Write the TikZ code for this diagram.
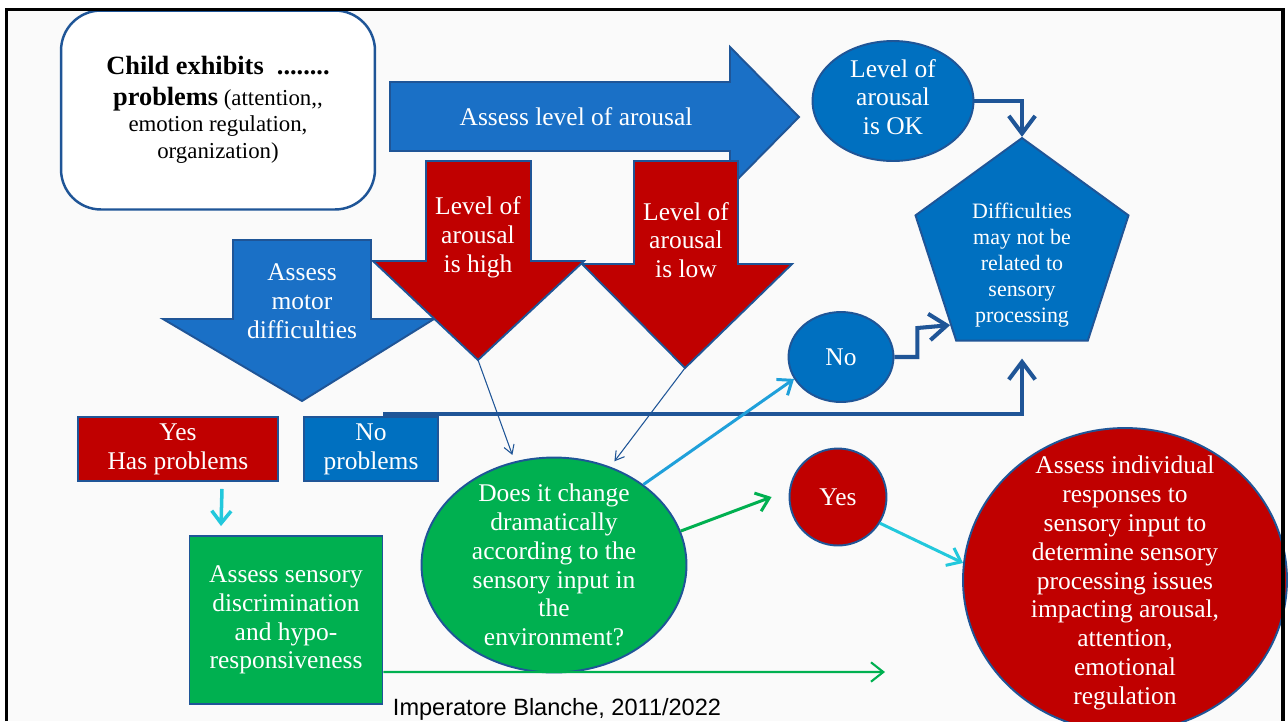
\documentclass[tikz,border=0pt]{standalone}
\usepackage{fontspec}
\setmainfont{Liberation Serif}
\setsansfont{Liberation Sans}
\usetikzlibrary{arrows.meta,shapes.geometric,calc}

\definecolor{fillblue}{HTML}{0070C0}
\definecolor{arrowblue}{HTML}{1A70C6}
\definecolor{edgeblue}{HTML}{1F5597}
\definecolor{darkred}{HTML}{C00000}
\definecolor{fillgreen}{HTML}{00B050}
\definecolor{skyblue}{HTML}{1FA0DA}
\definecolor{aqua}{HTML}{22C8DC}
\definecolor{slidebg}{HTML}{FAFAFA}

\newcommand{\boxfont}{\fontsize{14.5}{16.4}\selectfont}
\newcommand{\childfont}{\fontsize{13}{15.3}\selectfont}
\newcommand{\childbold}[1]{{\fontsize{15}{15.3}\selectfont\bfseries #1}}
\newcommand{\pentfont}{\fontsize{12.5}{14.8}\selectfont}
\newcommand{\creditfont}{\sffamily\fontsize{13.4}{15}\selectfont}

\tikzset{
  shape edge/.style={draw=edgeblue,line width=1.1pt},
  white text/.style={text=white,align=center,font=\boxfont},
  blue shape/.style={shape edge,fill=fillblue,white text},
  red shape/.style={shape edge,fill=darkred,white text},
  green shape/.style={shape edge,fill=fillgreen,white text},
  block blue/.style={shape edge,fill=arrowblue,line join=miter},
  block red/.style={shape edge,fill=darkred,line join=miter},
  elbow link/.style={draw=edgeblue,line width=2.3pt,-{Straight Barb[length=10pt,width=15pt]}},
  thin link/.style={draw=edgeblue,line width=0.6pt,-{Straight Barb[length=5pt,width=6pt]}},
  colour link/.style={line width=1.7pt,-{Straight Barb[length=7pt,width=11pt]}},
}

\begin{document}
\begin{tikzpicture}[x=0.02cm,y=-0.02cm]
\useasboundingbox (0,0) rectangle (1288,721);
\clip (0,0) rectangle (1288,721);
\fill[white] (0,0) rectangle (1288,721);
\fill[slidebg] (6,9) rectangle (1283,721);

% start box
\node[draw=edgeblue,line width=1.4pt,fill=white,rounded corners=0.8cm,
  minimum width=6.28cm,minimum height=3.98cm,align=center,font=\childfont] (child) at (218,110)
  {\childbold{Child exhibits\ \ ........}\\[2pt] \childbold{problems} (attention,{},\\ emotion regulation,\\ organization)};

% block arrows
\draw[block blue] (390,82) -- (730,82) -- (730,47) -- (799,117) -- (730,187) -- (730,151) -- (390,151) -- cycle;
\node[white text] (arousal) at (576,117) {Assess level of arousal};

\draw[block blue] (233,240) -- (371,240) -- (371,319) -- (434,319) -- (302,401) -- (163,319) -- (233,319) -- cycle;
\node[white text] (motor) at (302,301) {Assess\\motor\\difficulties};

\draw[block red] (426,161) -- (531,161) -- (531,261) -- (584,261) -- (478,360) -- (373,261) -- (426,261) -- cycle;
\node[white text] (high) at (478,237) {Level of\\arousal\\is high};
\coordinate (hightip) at (478,360);

\draw[block red] (634,161) -- (738,161) -- (738,264) -- (792,264) -- (685,368) -- (582,264) -- (634,264) -- cycle;
\node[white text] (low) at (686,240) {Level of\\arousal\\is low};
\coordinate (lowtip) at (685,368);

% outcome nodes
\node[blue shape,ellipse,minimum width=3.22cm,minimum height=2.4cm,inner sep=0pt] (ok) at (893,101) {};
\node[white text] (oklabel) at (893,97) {Level of\\arousal\\is OK};
\node[regular polygon,regular polygon sides=5,minimum size=4.48cm,inner sep=0pt,shape edge,fill=fillblue] (pent) at (1022,250) {};
\node[white text,font=\pentfont] (pentlabel) at (1022,265) {Difficulties\\may not be\\related to\\sensory\\processing};
\node[blue shape,ellipse,minimum width=2.1cm,minimum height=1.8cm] (no) at (841,357) {No};
\node[red shape,rectangle,minimum width=4cm,minimum height=1.28cm] (yesbox) at (178,449) {Yes\\Has problems};
\node[blue shape,rectangle,minimum width=2.68cm,minimum height=1.28cm] (nobox) at (371,449) {No\\problems};
\node[green shape,ellipse,minimum width=5.3cm,minimum height=4.3cm] (change) at (554,565) {};
\node[white text] (changelabel) at (554,565) {Does it change\\dramatically\\according to the\\sensory input in\\the\\environment?};
\node[red shape,circle,minimum size=1.94cm] (yes) at (838,497) {Yes};
\node[red shape,ellipse,minimum width=6.48cm,minimum height=6.08cm] (big) at (1125,580) {};
\node[white text] (biglabel) at (1125,583) {Assess individual\\responses to\\sensory input to\\determine sensory\\processing issues\\impacting arousal,\\attention,\\emotional\\regulation};
\node[green shape,rectangle,minimum width=3.86cm,minimum height=3.36cm] (sens) at (286,620) {Assess sensory\\discrimination\\and hypo-\\responsiveness};
\node[font=\creditfont] (credit) at (557,709) {Imperatore Blanche, 2011/2022};

% connectors
\draw[elbow link] (ok.east) -| (pent.corner 1);
\draw[elbow link] (no.east) -| ++(23,-29) -- ($(pent.corner 2)!0.87!(pent.corner 3)$);
\draw[elbow link] ([xshift=0.24cm,yshift=0.05cm]nobox.north) -| ([yshift=-0.34cm]pent.south);
\draw[thin link] (hightip) -- ([yshift=0.14cm]change.112);
\draw[thin link] (lowtip) -- ([yshift=0.14cm]change.58);
\draw[colour link,skyblue] (change.42) -- (no.205);
\draw[colour link,fillgreen] (change.15) -- ([xshift=-0.34cm]yes.west);
\draw[colour link,aqua] (yes.-32) -- (big.174);
\draw[colour link,aqua,line width=2pt] ([xshift=0.88cm,yshift=-0.14cm]yesbox.south) -- ([xshift=-1.3cm,yshift=0.18cm]sens.north);
\coordinate (gend) at (885,672);
\draw[colour link,fillgreen,line width=1.2pt] ([yshift=-1.04cm]sens.east) -- (gend);

% slide frame
\draw[line width=1.8pt] (6.5,721) -- (6.5,9.5) -- (1283,9.5) -- (1283,721);
\end{tikzpicture}
\end{document}
